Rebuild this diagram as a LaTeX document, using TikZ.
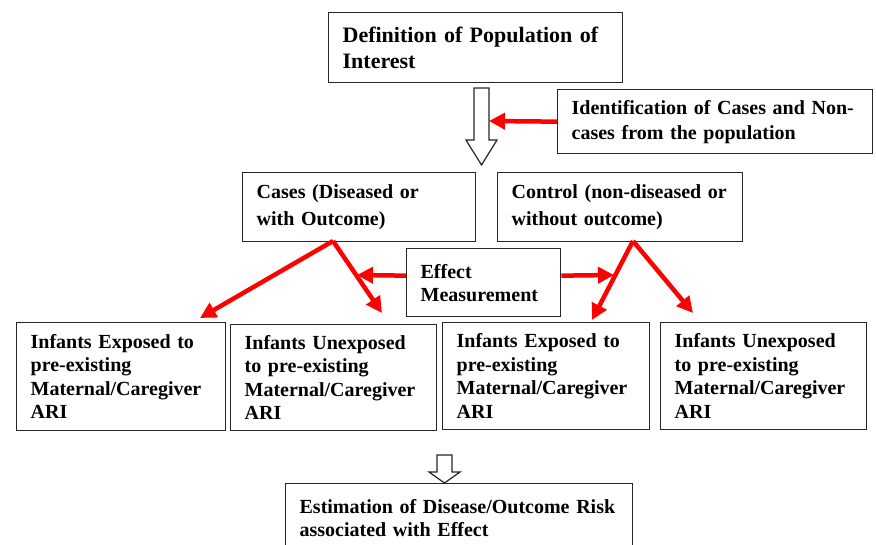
\documentclass[tikz,border=0pt]{standalone}
\usepackage{fontspec}
\setmainfont{Liberation Serif}
\usetikzlibrary{arrows.meta, calc}

\tikzset{
  box/.style={draw=black!85, line width=1.3pt, fill=white, anchor=north west, align=left,
    inner xsep=14pt, inner ysep=0pt, font=\bfseries\fontsize{20}{26}\selectfont},
  redarrow/.style={draw=red, line width=4.5pt, -{Triangle[length=16pt, width=16pt]}},
  hollow/.style={draw=black!85, line width=1.2pt, fill=white, line join=miter},
}

\begin{document}
\begin{tikzpicture}[x=1pt, y=-1pt]
    \useasboundingbox (0,0) rectangle (876,544);

    % Top of the study
    \node[box, text width=266pt, minimum height=70pt, font=\bfseries\fontsize{22}{26}\selectfont]
        (population) at (328,12) {Definition of Population of\\Interest};
    \node[box, text width=287pt, minimum height=64pt, font=\bfseries\fontsize{20}{25}\selectfont]
        (ident) at (557,89) {Identification of Cases and Non-\\cases from the population};

    % Hollow arrow down to the groups
    \draw[hollow] (474,88) -- (489,88) -- (489,140) -- (497,140) -- (481.5,165)
        -- (466,140) -- (474,140) -- cycle;
    \coordinate (shaft) at (489,121);
    \draw[redarrow] (ident.west) -- (shaft);

    % Cases and controls
    \node[box, text width=205pt, minimum height=69pt, font=\bfseries\fontsize{20}{27}\selectfont]
        (cases) at (242,172) {Cases (Diseased or\\with Outcome)};
    \node[box, text width=217pt, minimum height=69pt, font=\bfseries\fontsize{20}{27}\selectfont]
        (control) at (497,172) {Control (non-diseased or\\without outcome)};
    \node[box, text width=126pt, minimum height=68pt, font=\bfseries\fontsize{20}{23}\selectfont]
        (effect) at (406,248) {Effect\\Measurement};

    % Exposure groups
    \node[box, text width=181pt, minimum height=108pt, font=\bfseries\fontsize{20}{23.5}\selectfont]
        (casesexp) at (16,322) {Infants Exposed to\\pre-existing\\Maternal/Caregiver\\ARI};
    \node[box, text width=178pt, minimum height=106pt, font=\bfseries\fontsize{20}{23.5}\selectfont]
        (casesunexp) at (230,324) {Infants Unexposed\\to pre-existing\\Maternal/Caregiver\\ARI};
    \node[box, text width=179pt, minimum height=107pt, font=\bfseries\fontsize{20}{23.5}\selectfont]
        (controlexp) at (442,322) {Infants Exposed to\\pre-existing\\Maternal/Caregiver\\ARI};
    \node[box, text width=178pt, minimum height=107pt, font=\bfseries\fontsize{20}{23.5}\selectfont]
        (controlunexp) at (660,322) {Infants Unexposed\\to pre-existing\\Maternal/Caregiver\\ARI};

    % Red split arrows
    \coordinate (casesapex) at (333,241);
    \coordinate (controlapex) at (633,241);
    \coordinate (tipA) at (200,318);
    \coordinate (tipB) at (382,313);
    \coordinate (tipC) at (592,320);
    \coordinate (tipD) at (693,313);
    \draw[redarrow] (casesapex) -- (tipA);
    \draw[redarrow] (casesapex) -- (tipB);
    \draw[redarrow] (controlapex) -- (tipC);
    \draw[redarrow] (controlapex) -- (tipD);

    % Effect measurement arrows
    \coordinate (effectL) at (357,275);
    \coordinate (effectR) at (614,275);
    \draw[redarrow] ([yshift=7pt]effect.west) -- (effectL);
    \draw[redarrow] ([yshift=7pt]effect.east) -- (effectR);

    % Result
    \draw[hollow] (437,455) -- (452,455) -- (452,472) -- (460,472) -- (444.5,483)
        -- (429,472) -- (437,472) -- cycle;
    \node[box, text width=319pt, minimum height=68pt, font=\bfseries\fontsize{20}{23}\selectfont]
        (estimate) at (285,483) {Estimation of Disease/Outcome Risk\\associated with Effect};
\end{tikzpicture}
\end{document}
